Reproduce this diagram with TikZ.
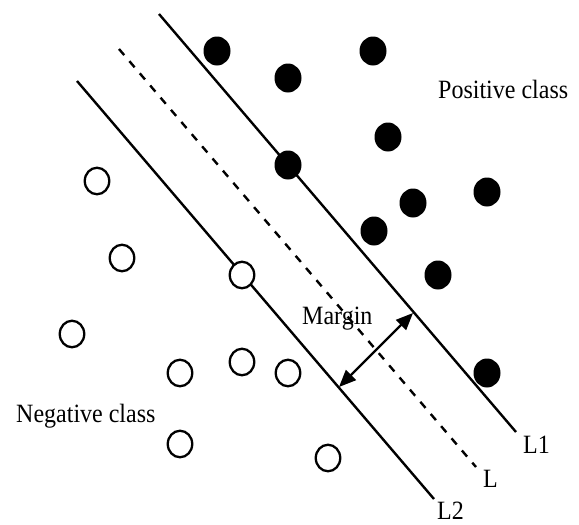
\documentclass[tikz,border=0pt]{standalone}
\usepackage{fontspec}
\usepackage{graphicx}
\setmainfont{Liberation Serif}
\usetikzlibrary{arrows.meta,shapes.geometric}
\newcommand{\tallt}[1]{\scalebox{1}[1.1]{#1}}
\begin{document}
\begin{tikzpicture}[x=1pt,y=-1pt,
  posdot/.style={ellipse,fill=black,draw=none,minimum width=27pt,minimum height=29pt,inner sep=0pt},
  negdot/.style={ellipse,draw=black,line width=2.3pt,fill=white,minimum width=24.5pt,minimum height=26.5pt,inner sep=0pt},
  sepline/.style={line width=2.4pt},
  midline/.style={line width=2.4pt,dash pattern=on 8pt off 8pt},
  lbl/.style={anchor=base west,inner sep=0pt,font=\fontsize{24}{28}\selectfont},
  marginarrow/.style={line width=2.4pt,{Triangle[length=17pt,width=14pt]}-{Triangle[length=17pt,width=14pt]}}]
\useasboundingbox (0,0) rectangle (579,525);
% lines
\coordinate (l1a) at (159,14);
\coordinate (l1b) at (516,432);
\coordinate (la) at (119,49);
\coordinate (lb) at (476,467);
\coordinate (l2a) at (77,81);
\coordinate (l2b) at (434,499);
\draw[sepline] (l1a) -- (l1b);
\draw[midline] (la) -- (lb);
\draw[sepline] (l2a) -- (l2b);
% positive points
\node[posdot] (p1) at (217,51) {};
\node[posdot] (p2) at (288,78) {};
\node[posdot] (p3) at (373,51) {};
\node[posdot] (p4) at (388,137) {};
\node[posdot] (p5) at (288,165) {};
\node[posdot] (p6) at (413,203) {};
\node[posdot] (p7) at (487,192) {};
\node[posdot] (p8) at (374,231) {};
\node[posdot] (p9) at (438,275) {};
\node[posdot] (p10) at (487,373) {};
% negative points
\node[negdot] (n1) at (97,181) {};
\node[negdot] (n2) at (122,258) {};
\node[negdot] (n3) at (72,334) {};
\node[negdot] (n4) at (242,275) {};
\node[negdot] (n5) at (180,373) {};
\node[negdot] (n6) at (242,362) {};
\node[negdot] (n7) at (288,373) {};
\node[negdot] (n8) at (180,444) {};
\node[negdot] (n9) at (328,458) {};
% margin arrow
\coordinate (m1) at (339,387);
\coordinate (m2) at (413,313);
\draw[marginarrow] (m1) -- (m2);
% labels
\node[lbl] (pos) at (438,98) {\tallt{Positive class}};
\node[lbl] (neg) at (16,422) {\tallt{Negative class}};
\node[lbl] (mar) at (302,324) {\tallt{Margin}};
\node[lbl] (tl1) at (523,453) {\tallt{L1}};
\node[lbl] (tl) at (483,487) {\tallt{L}};
\node[lbl] (tl2) at (437,519) {\tallt{L2}};
\end{tikzpicture}
\end{document}
